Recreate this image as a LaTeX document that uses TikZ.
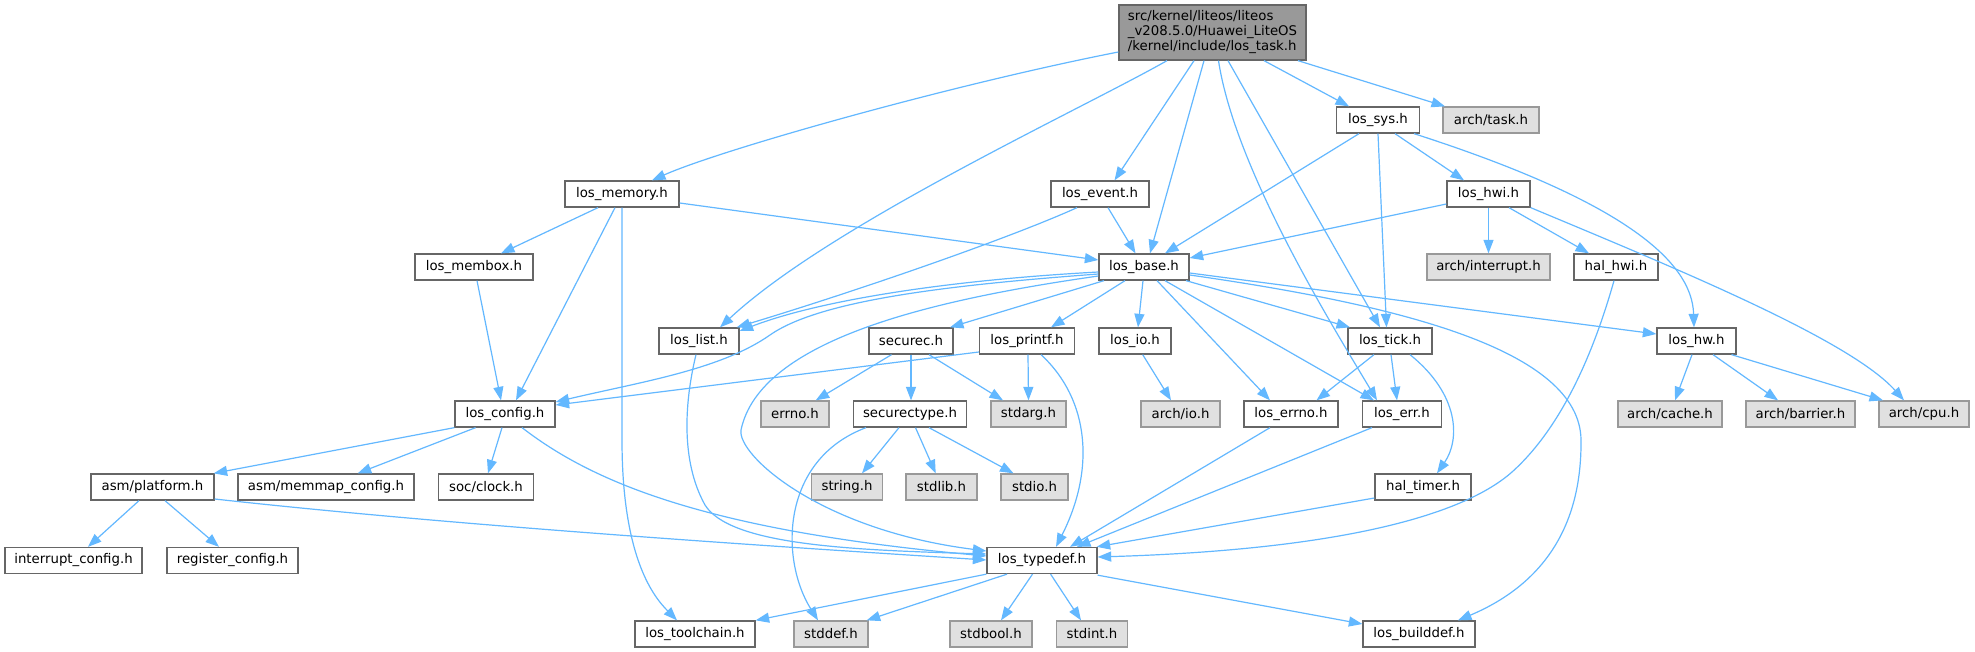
\documentclass[tikz,border=0pt]{standalone}
\usepackage{fontspec}
\setmainfont{DejaVu Sans}
\usetikzlibrary{arrows.meta}
\definecolor{edgec}{HTML}{63B8FF}
\definecolor{cDark}{HTML}{666666}
\definecolor{cMid}{HTML}{999999}
\definecolor{cLight}{HTML}{E0E0E0}
\newcommand{\nfont}{\fontsize{13.3}{15}\selectfont}
\tikzset{
  box/.style={draw=cDark, fill=white, line width=1.3pt, minimum height=26pt, inner sep=0pt, font=\nfont},
  gbox/.style={box, draw=cMid, fill=cLight},
  rootbox/.style={box, draw=cDark, fill=cMid, minimum height=55pt, align=left},
  e/.style={draw=edgec, line width=1.2pt, -{Triangle[length=13.5pt,width=10pt]}},
}
\begin{document}
\begin{tikzpicture}[x=1pt,y=-1pt]
\useasboundingbox[fill=white] (0,0) rectangle (1975,652);
% nodes
\node[rootbox, minimum width=187pt] (task) at (1212.5,32.5) {src/kernel/liteos/liteos\\\_v208.5.0/Huawei\_LiteOS\\/kernel/include/los\_task.h};
\node[box, minimum width=114pt] (memory) at (622,194) {los\_memory.h};
\node[box, minimum width=118pt] (membox) at (474,267) {los\_membox.h};
\node[box, minimum width=98pt] (event) at (1100,194) {los\_event.h};
\node[box, minimum width=90pt] (base) at (1144,267) {los\_base.h};
\node[box, minimum width=80pt] (list) at (699,341) {los\_list.h};
\node[box, minimum width=83pt] (sys) at (1378,120) {los\_sys.h};
\node[gbox, minimum width=96pt] (archtask) at (1491,120) {arch/task.h};
\node[box, minimum width=83pt] (hwi) at (1488.5,194) {los\_hwi.h};
\node[gbox, minimum width=123pt] (archint) at (1488.5,267) {arch/interrupt.h};
\node[box, minimum width=84pt] (halhwi) at (1616,267) {hal\_hwi.h};
\node[box, minimum width=84pt] (tick) at (1390,341) {los\_tick.h};
\node[box, minimum width=79pt] (hw) at (1696.5,341) {los\_hw.h};
\node[box, minimum width=79pt] (err) at (1402,414) {los\_err.h};
\node[box, minimum width=94pt] (errno) at (1291,414) {los\_errno.h};
\node[gbox, minimum width=104pt] (archcache) at (1670,414) {arch/cache.h};
\node[gbox, minimum width=109pt] (archbarrier) at (1800.5,414) {arch/barrier.h};
\node[gbox, minimum width=90pt] (archcpu) at (1924,414) {arch/cpu.h};
\node[box, minimum width=96pt] (haltimer) at (1423,487) {hal\_timer.h};
\node[box, minimum width=112pt] (builddef) at (1419,634) {los\_builddef.h};
\node[box, minimum width=84pt] (securec) at (911,341) {securec.h};
\node[box, minimum width=95pt] (printf) at (1027,341) {los\_printf.h};
\node[box, minimum width=72pt] (io) at (1135,341) {los\_io.h};
\node[gbox, minimum width=68pt] (errnoh) at (795,414) {errno.h};
\node[box, minimum width=113pt] (securectype) at (910,414) {securectype.h};
\node[gbox, minimum width=75pt] (stdarg) at (1028.5,414) {stdarg.h};
\node[gbox, minimum width=79pt] (archio) at (1180.5,414) {arch/io.h};
\node[gbox, minimum width=71pt] (string) at (847,487) {string.h};
\node[gbox, minimum width=71pt] (stdlib) at (941.5,487) {stdlib.h};
\node[gbox, minimum width=67pt] (stdio) at (1034.5,487) {stdio.h};
\node[box, minimum width=110pt] (typedef) at (1042,560.5) {los\_typedef.h};
\node[box, minimum width=120pt] (toolchain) at (695,634) {los\_toolchain.h};
\node[gbox, minimum width=74pt] (stddef) at (831,634) {stddef.h};
\node[gbox, minimum width=82pt] (stdbool) at (991,634) {stdbool.h};
\node[gbox, minimum width=71pt] (stdint) at (1092,634) {stdint.h};
\node[box, minimum width=100pt] (config) at (505,414) {los\_config.h};
\node[box, minimum width=123pt] (platform) at (152.5,487) {asm/platform.h};
\node[box, minimum width=176pt] (memmap) at (326,487) {asm/memmap\_config.h};
\node[box, minimum width=95pt] (clock) at (486,487) {soc/clock.h};
\node[box, minimum width=137pt] (intconfig) at (73.5,560.5) {interrupt\_config.h};
\node[box, minimum width=131pt] (regconfig) at (232.5,560.5) {register\_config.h};
% edges from los_task.h
\draw[e] ([yshift=-19.5pt]task.west) .. controls (950,85) and (720,150) .. ([xshift=30pt]memory.north);
\draw[e] ([xshift=-45.5pt]task.south) .. controls (1080,110) and (830,225) .. ([xshift=21pt]list.north);
\draw[e] ([xshift=-18.5pt]task.south) -- ([xshift=14.5pt]event.north);
\draw[e] ([xshift=-8.5pt]task.south) -- ([xshift=6pt]base.north);
\draw[e] ([xshift=6pt]task.south) .. controls (1235,170) and (1335,330) .. ([xshift=-25pt]err.north);
\draw[e] ([xshift=15.5pt]task.south) -- ([xshift=-10pt]tick.north);
\draw[e] ([xshift=51.5pt]task.south) -- ([xshift=-29pt]sys.north);
\draw[e] ([xshift=85.5pt]task.south) -- ([xshift=-46pt]archtask.north);
% los_memory.h
\draw[e] ([xshift=-24pt]memory.south) -- ([xshift=27pt]membox.north);
\draw[e] ([xshift=-7pt]memory.south) -- ([xshift=11pt]config.north);
\draw[e] (memory.south) -- (622,440) .. controls (622,560) and (655,598) .. ([xshift=-18pt]toolchain.north);
\draw[e] ([yshift=-9pt]memory.east) -- ([yshift=7pt]base.west);
% los_membox.h
\draw[e] ([xshift=3pt]membox.south) -- ([xshift=-4pt]config.north);
% los_event.h
\draw[e] ([xshift=-23pt]event.south) .. controls (1010,238) and (860,290) .. ([xshift=-3pt]list.north east);
\draw[e] ([xshift=8pt]event.south) -- ([xshift=-8.5pt]base.north);
% los_sys.h
\draw[e] ([xshift=-19pt]sys.south) -- ([xshift=21pt]base.north);
\draw[e] (sys.south) -- ([xshift=-3.5pt]tick.north);
\draw[e] ([xshift=17pt]sys.south) -- ([xshift=-24.5pt]hwi.north);
\draw[e] ([xshift=36pt]sys.south) .. controls (1620,200) and (1692,260) .. ([xshift=-2.5pt]hw.north);
% los_hwi.h
\draw[e] ([yshift=-10pt]hwi.west) -- ([yshift=9pt]base.east);
\draw[e] (hwi.south) -- (archint.north);
\draw[e] ([xshift=20.5pt]hwi.south) -- ([xshift=-27pt]halhwi.north);
\draw[e] (hwi.south east) .. controls (1680,270) and (1850,340) .. ([xshift=-20pt]archcpu.north);
% hal_hwi.h
\draw[e] ([xshift=-2pt]halhwi.south) .. controls (1600,330) and (1570,420) .. (1512,472) .. controls (1460,518) and (1330,550) .. ([yshift=3.5pt]typedef.east);
% los_base.h
\draw[e] ([yshift=-5pt]base.west) .. controls (950,280) and (820,300) .. ([yshift=10pt]list.east);
\draw[e] ([yshift=-7pt]base.west) .. controls (950,285) and (820,300) .. (770,335) .. controls (720,370) and (640,382) .. ([yshift=12pt]config.east);
\draw[e] ([yshift=-9pt]base.west) .. controls (930,300) and (760,340) .. (741,430) .. controls (737,455) and (820,530) .. ([yshift=9.5pt]typedef.west);
\draw[e] ([xshift=-40pt]base.south) -- ([xshift=39pt]securec.north);
\draw[e] ([xshift=-19pt]base.south) -- ([xshift=24pt]printf.north);
\draw[e] ([xshift=-1pt]base.south) -- ([xshift=3pt]io.north);
\draw[e] ([xshift=13pt]base.south) -- ([xshift=-21pt]errno.north);
\draw[e] ([xshift=21pt]base.south) -- ([xshift=-28pt]err.north);
\draw[e] ([xshift=42pt]base.south) -- ([xshift=-40pt]tick.north);
\draw[e] ([yshift=-8pt]base.east) .. controls (1400,305) and (1580,350) .. (1581,440) .. controls (1582,540) and (1530,590) .. ([xshift=39pt]builddef.north);
\draw[e] ([yshift=-6pt]base.east) -- ([yshift=7pt]hw.west);
% los_list.h
\draw[e] ([xshift=-3pt]list.south) .. controls (685,400) and (680,460) .. (705,505) .. controls (730,545) and (850,550) .. ([yshift=6.5pt]typedef.west);
% los_config.h
\draw[e] (config.south west) -- ([xshift=-1pt]platform.north east);
\draw[e] ([xshift=-29.4pt]config.south) -- ([xshift=31.7pt]memmap.north);
\draw[e] ([xshift=-3pt]config.south) -- ([xshift=2pt]clock.north);
\draw[e] ([xshift=17pt]config.south) .. controls (590,480) and (700,530) .. ([yshift=4.5pt]typedef.west);
% asm/platform.h
\draw[e] ([xshift=-13.5pt]platform.south) -- ([xshift=14.5pt]intconfig.north);
\draw[e] ([xshift=12.5pt]platform.south) -- ([xshift=-13.5pt]regconfig.north);
\draw[e] ([yshift=-12pt]platform.east) .. controls (450,525) and (750,545) .. ([yshift=0.5pt]typedef.west);
% los_printf.h
\draw[e] ([yshift=-11pt]printf.west) -- ([yshift=9pt]config.east);
\draw[e] ([xshift=1pt]printf.south) -- (stdarg.north);
\draw[e] ([xshift=14pt]printf.south) .. controls (1090,400) and (1095,470) .. ([xshift=14pt]typedef.north);
% securec.h
\draw[e] ([xshift=-19.5pt]securec.south) -- ([xshift=20.7pt]errnoh.north);
\draw[e] (securec.south) -- ([xshift=1pt]securectype.north);
\draw[e] ([xshift=18pt]securec.south) -- ([xshift=-25.5pt]stdarg.north);
% securectype.h
\draw[e] ([xshift=-44pt]securectype.south) .. controls (780,460) and (780,560) .. ([xshift=-13pt]stddef.north);
\draw[e] ([xshift=-11pt]securectype.south) -- ([xshift=15pt]string.north);
\draw[e] ([xshift=5.5pt]securectype.south) -- ([xshift=-5.8pt]stdlib.north);
\draw[e] ([xshift=19pt]securectype.south) -- ([xshift=-21pt]stdio.north);
% los_io.h
\draw[e] ([xshift=7.7pt]io.south) -- ([xshift=-9.5pt]archio.north);
% los_errno.h, los_err.h, hal_timer.h
\draw[e] ([xshift=-21pt]errno.south) -- ([xshift=28pt]typedef.north);
\draw[e] ([xshift=-30pt]err.south) -- ([xshift=35pt]typedef.north);
\draw[e] ([yshift=-11pt]haltimer.west) -- ([xshift=-1pt]typedef.north east);
% los_tick.h
\draw[e] ([xshift=-16pt]tick.south) -- ([xshift=25.5pt]errno.north);
\draw[e] ([xshift=1pt]tick.south) -- ([xshift=-5pt]err.north);
\draw[e] ([xshift=20pt]tick.south) .. controls (1460,395) and (1460,440) .. ([xshift=14pt]haltimer.north);
% los_hw.h
\draw[e] ([xshift=-4.5pt]hw.south) -- ([xshift=5pt]archcache.north);
\draw[e] ([xshift=16.5pt]hw.south) -- ([xshift=-22.5pt]archbarrier.north);
\draw[e] ([xshift=35pt]hw.south) -- ([xshift=-41pt]archcpu.north);
% los_typedef.h
\draw[e] (typedef.south west) -- (toolchain.north east);
\draw[e] ([xshift=-35pt]typedef.south) -- ([xshift=-2pt]stddef.north east);
\draw[e] ([xshift=-9.5pt]typedef.south) -- ([xshift=10pt]stdbool.north);
\draw[e] ([xshift=8.6pt]typedef.south) -- ([xshift=-11pt]stdint.north);
\draw[e] ([yshift=-1pt]typedef.south east) -- ([yshift=10pt]builddef.west);
\end{tikzpicture}
\end{document}
